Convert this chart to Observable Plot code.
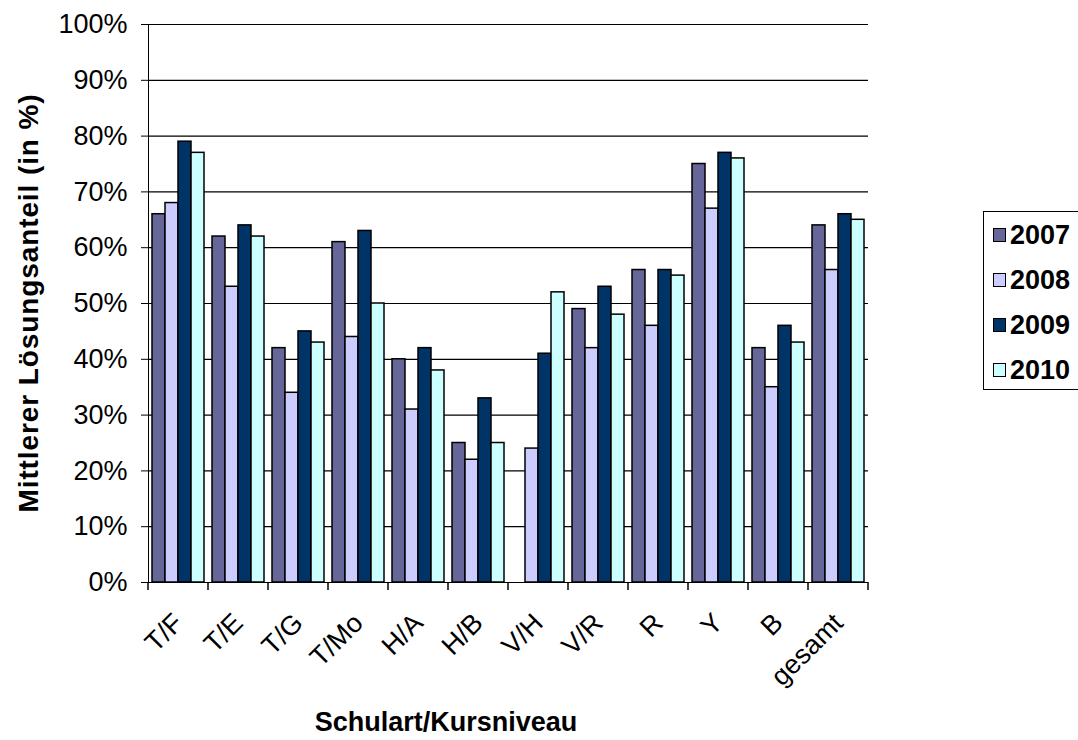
<!DOCTYPE html>
<html>
<head>
<meta charset="utf-8">
<script src="https://cdn.jsdelivr.net/npm/d3@7"></script>
<script src="https://cdn.jsdelivr.net/npm/@observablehq/plot@0.6"></script>
<style>
  html, body { margin: 0; padding: 0; background: #fff; }
  body { width: 1078px; height: 740px; position: relative; overflow: hidden; font-family: "Liberation Sans", Arial, sans-serif; }
  #chart { position: absolute; left: 0; top: 0; }
  .title { position: absolute; font-weight: bold; color: #000; white-space: nowrap; line-height: 1; }
  #legend { position: absolute; left: 983px; top: 211px; width: 120px; height: 179px; border: 1.5px solid #000; border-right: none; box-sizing: border-box; background: #fff; }
  .lg-row { position: absolute; left: 9px; height: 30px; display: flex; align-items: center; }
  .lg-sw { width: 13px; height: 14px; border: 1.5px solid #000; box-sizing: border-box; margin-right: 4px; }
  .lg-tx { font-weight: bold; font-size: 27px; line-height: 1; }
</style>
</head>
<body>
<div id="chart"></div>
<div class="title" id="ytitle" style="left:29px; top:303px; font-size:28px; transform: translate(-50%,-50%) rotate(-90deg); letter-spacing:0.9px;">Mittlerer Lösungsanteil (in %)</div>
<div class="title" id="xtitle" style="left:446px; top:722px; font-size:27px; transform: translate(-50%,-50%);">Schulart/Kursniveau</div>
<div id="legend"></div>
<script>
const categories = ["T/F", "T/E", "T/G", "T/Mo", "H/A", "H/B", "V/H", "V/R", "R", "Y", "B", "gesamt"];
const years = ["2007", "2008", "2009", "2010"];
const values2007 = [0.66, 0.62, 0.42, 0.61, 0.40, 0.25, null, 0.49, 0.56, 0.75, 0.42, 0.64];
const values2008 = [0.68, 0.53, 0.34, 0.44, 0.31, 0.22, 0.24, 0.42, 0.46, 0.67, 0.35, 0.56];
const values2009 = [0.79, 0.64, 0.45, 0.63, 0.42, 0.33, 0.41, 0.53, 0.56, 0.77, 0.46, 0.66];
const values2010 = [0.77, 0.62, 0.43, 0.50, 0.38, 0.25, 0.52, 0.48, 0.55, 0.76, 0.43, 0.65];
const yTicks = [0, 0.1, 0.2, 0.3, 0.4, 0.5, 0.6, 0.7, 0.8, 0.9, 1.0];
const colors = ["#666699", "#CCCCFF", "#003366", "#CCFFFF"];

const series = [values2007, values2008, values2009, values2010];
const data = [];
categories.forEach((c, i) => {
  years.forEach((y, j) => {
    const v = series[j][i];
    if (v != null) data.push({cat: c, year: y, value: v});
  });
});

const plot = Plot.plot({
  width: 1078,
  height: 740,
  marginLeft: 144,
  marginRight: 207,
  marginTop: 24,
  marginBottom: 158,
  style: {fontSize: "27px", fontFamily: "'Liberation Sans', Arial, sans-serif", color: "#000", background: "transparent"},
  fx: {domain: categories, padding: 0, tickRotate: -45, tickSize: 0, tickPadding: 36, label: null},
  x: {domain: years, paddingInner: 0, paddingOuter: 0.28, axis: null},
  y: {domain: [0, 1], ticks: yTicks, tickFormat: d3.format(".0%"), tickSize: 7, tickPadding: 14, label: null, line: true},
  color: {domain: years, range: colors},
  marks: [
    Plot.ruleY(yTicks, {stroke: "#000", strokeWidth: 1.2}),
    Plot.barY(data, {fx: "cat", x: "year", y: "value", fill: "year", stroke: "#000", strokeWidth: 1.5})
  ]
});
document.getElementById("chart").appendChild(plot);

// category boundary ticks on the x axis, positioned with Plot's fx scale
const fx = plot.scale("fx");
const yS = plot.scale("y");
const y0 = yS.apply(0);
const bounds = categories.map(c => fx.apply(c)).concat([fx.apply(categories[categories.length - 1]) + fx.bandwidth]);
d3.select(plot).append("g")
  .selectAll("line").data(bounds).join("line")
  .attr("x1", d => d).attr("x2", d => d)
  .attr("y1", y0).attr("y2", y0 + 8)
  .attr("stroke", "#000").attr("stroke-width", 1.5);

// legend
const legend = document.getElementById("legend");
years.forEach((y, i) => {
  const row = document.createElement("div");
  row.className = "lg-row";
  row.style.top = (8 + i * 45) + "px";
  const sw = document.createElement("div");
  sw.className = "lg-sw";
  sw.style.background = colors[i];
  const tx = document.createElement("div");
  tx.className = "lg-tx";
  tx.textContent = y;
  row.appendChild(sw); row.appendChild(tx);
  legend.appendChild(row);
});
</script>
</body>
</html>
